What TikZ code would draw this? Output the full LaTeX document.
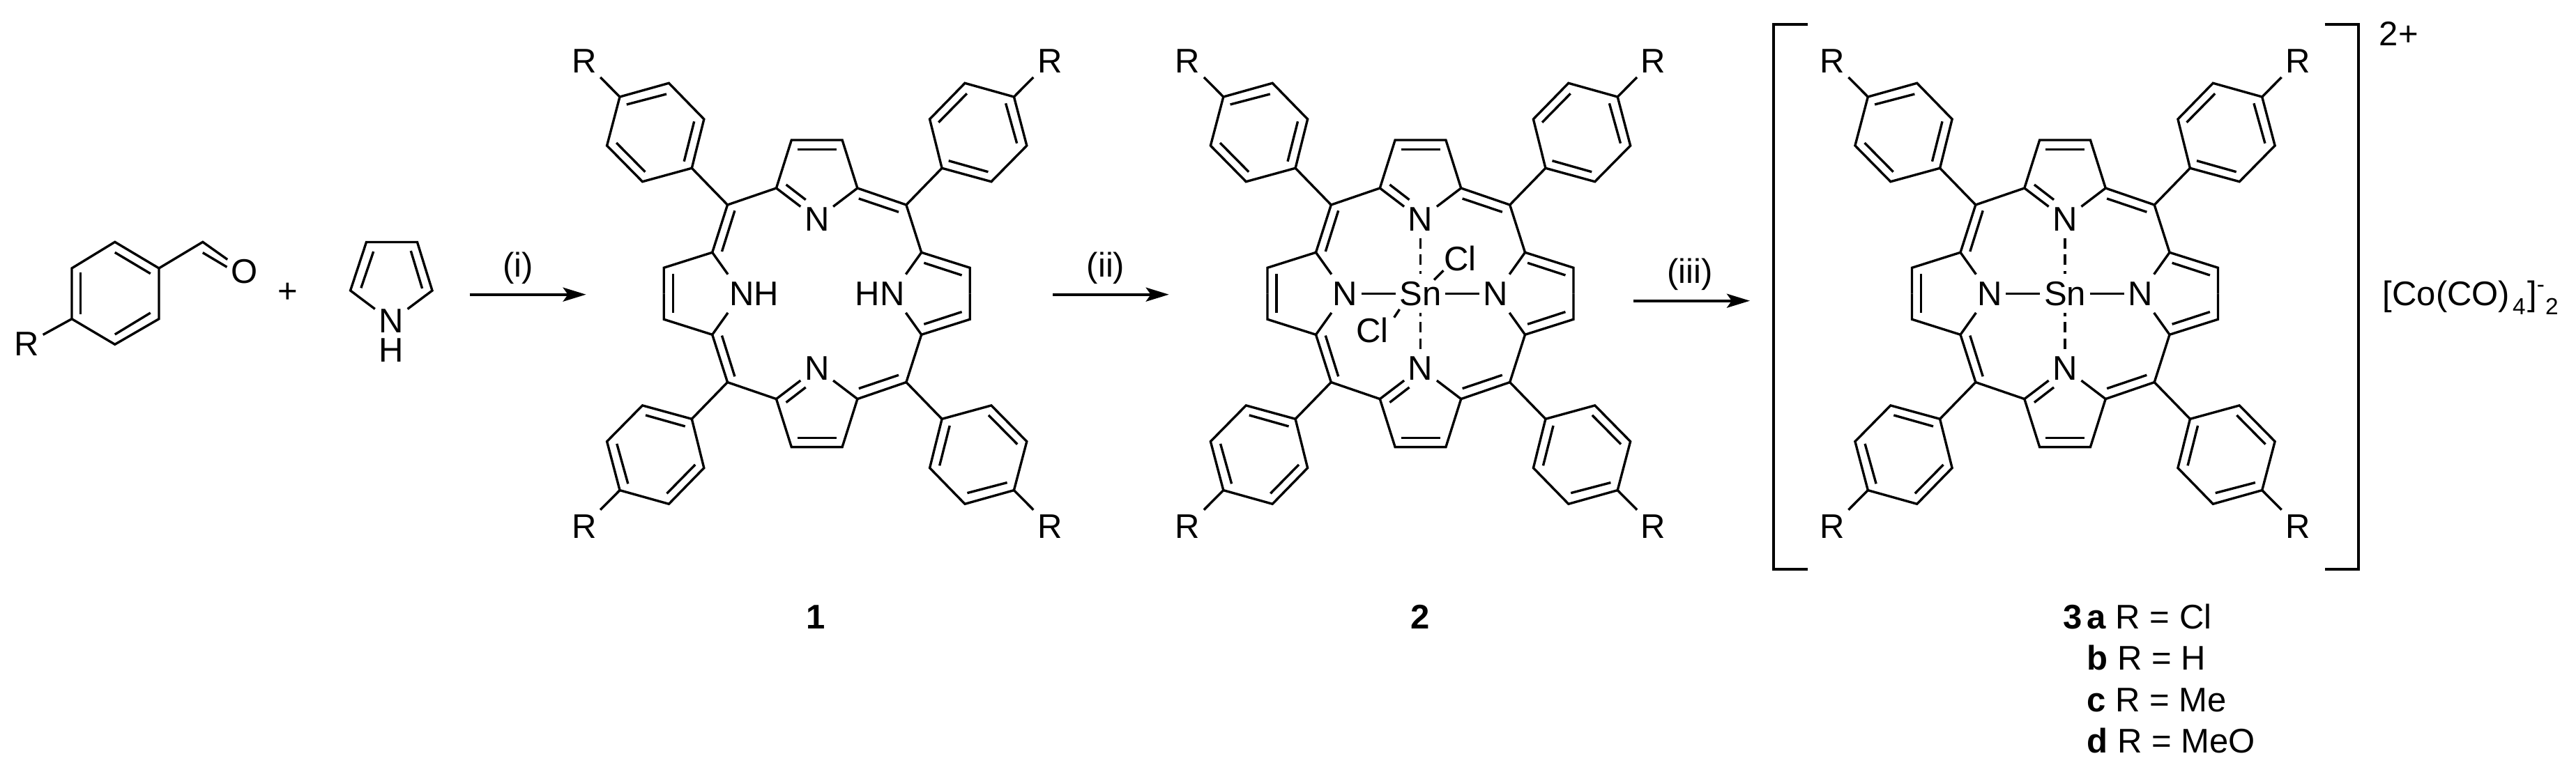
\documentclass[tikz,border=0pt]{standalone}
\usepackage{fontspec}
\setmainfont{Liberation Sans}
\usetikzlibrary{arrows.meta}
\newcommand{\subfnt}{\fontsize{9.5pt}{10pt}\selectfont}
\tikzset{
every node/.style={font=\fontsize{13.95pt}{16pt}\selectfont},
bond/.style={line width=0.034cm},
rxn/.style={line width=0.04cm,-{Stealth[length=0.33cm,width=0.2cm,inset=0.07cm]}},
brk/.style={line width=0.04cm},
atom/.style={inner xsep=0.05cm,inner ysep=0.1cm},
lbl/.style={inner sep=0pt,anchor=base west}
}
\begin{document}
\begin{tikzpicture}
\useasboundingbox (0,0) rectangle (36.95,11.07);

\coordinate (ca) at (1.648,7.597);
\coordinate (cb) at (2.28,7.22);
\coordinate (cc) at (2.28,6.493);
\coordinate (cd) at (1.648,6.127);
\coordinate (ce) at (1.03,6.493);
\coordinate (cf) at (1.03,7.22);
\coordinate (cho) at (2.908,7.597);
\node[atom] (oxy) at (3.51,7.17) {O};
\node[atom] (rsub) at (0.383,6.137) {R};
\draw[bond] (ca) -- (cb) -- (cc) -- (cd) -- (ce) -- (cf) -- cycle;
\draw[bond] (1.648,7.447) -- (2.158,7.143);
\draw[bond] (1.153,7.163) -- (1.153,6.563);
\draw[bond] (1.648,6.27) -- (2.158,6.58);
\draw[bond] (cb) -- (cho) -- (oxy);
\draw[bond] (2.908,7.444) -- (3.255,7.237);
\draw[bond] (ce) -- (rsub);
\node (plus) at (4.133,6.87) {+};

\coordinate (pya) at (5.255,7.595);
\coordinate (pyb) at (5.985,7.595);
\coordinate (pyc) at (6.2,6.9);
\coordinate (pyd) at (5.026,6.9);
\node[atom,inner ysep=0.04cm] (pyn) at (5.612,6.46) {N};
\node[inner sep=0pt] (pyh) at (5.61,6.043) {H};
\draw[bond] (pyn) -- (pyd) -- (pya) -- (pyb) -- (pyc) -- (pyn);
\draw[bond] (5.357,7.46) -- (5.179,6.937);
\draw[bond] (5.893,7.47) -- (6.056,6.93);

\coordinate (ar1s) at (6.735,6.843);
\coordinate (ar1e) at (8.406,6.843);
\coordinate (ar2s) at (15.1,6.843);
\coordinate (ar2e) at (16.767,6.843);
\coordinate (ar3s) at (23.427,6.753);
\coordinate (ar3e) at (25.1,6.753);
\draw[rxn] (ar1s) -- (ar1e);
\draw[rxn] (ar2s) -- (ar2e);
\draw[rxn] (ar3s) -- (ar3e);
\node (st1) at (7.43,7.22) {(i)};
\node (st2) at (15.86,7.22) {(ii)};
\node (st3) at (24.24,7.13) {(iii)};

\foreach \mol/\cx/\lN/\rN in {a/11.717/N\rlap{H}/\llap{H}N,b/20.375/N/N,c/29.62/N/N}{
\begin{scope}[shift={(\cx,6.857)}]
\node[atom] (\mol Nl) at (-1.08,0) {\lN};
\node[atom] (\mol Nr) at (1.08,0) {\rN};
\foreach \s in {1,-1}{
\begin{scope}[yscale=\s]
\node[atom] (\mol N\s) at (0,1.07) {N};
\coordinate (mesL) at (-1.282,1.273);
\coordinate (mesR) at (1.282,1.273);
\coordinate (alfL) at (-0.582,1.513);
\coordinate (alfR) at (0.582,1.513);
\coordinate (betL) at (-0.364,2.203);
\coordinate (betR) at (0.364,2.203);
\coordinate (sidL) at (-1.5,0.59);
\coordinate (sidR) at (1.5,0.59);
\coordinate (sbeL) at (-2.195,0.37);
\coordinate (sbeR) at (2.195,0.37);
\draw[bond] (mesL) -- (alfL) -- (betL) -- (betR) -- (alfR) -- (mesR);
\draw[bond] (alfL) -- (\mol N\s);
\draw[bond] (alfR) -- (\mol N\s);
\draw[bond] (mesL) -- (sidL) -- (sbeL) -- (-2.195,0);
\draw[bond] (mesR) -- (sidR) -- (sbeR) -- (2.195,0);
\draw[bond] (sidL) -- (\mol Nl);
\draw[bond] (sidR) -- (\mol Nr);
\draw[bond] (-0.28,2.07) -- (0.28,2.07);
\draw[bond] (-0.441,1.563) -- (-0.16,1.346);
\draw[bond] (0.601,1.363) -- (1.173,1.17);
\draw[bond] (-1.178,1.19) -- (-1.362,0.603);
\draw[bond] (-2.065,0.28) -- (-2.065,0);
\draw[bond] (1.536,0.44) -- (2.079,0.263);
\end{scope}
}
\foreach \ang in {0,180}{
\begin{scope}[rotate=\ang]
\coordinate (mesL) at (-1.282,1.273);
\coordinate (mesR) at (1.282,1.273);
\coordinate (lpa) at (-1.794,1.8);
\coordinate (lpb) at (-2.502,1.606);
\coordinate (lpc) at (-3.011,2.123);
\coordinate (lpd) at (-2.827,2.823);
\coordinate (lpe) at (-2.123,3.02);
\coordinate (lpf) at (-1.619,2.503);
\coordinate (rpa) at (1.794,1.8);
\coordinate (rpb) at (2.502,1.606);
\coordinate (rpc) at (3.011,2.123);
\coordinate (rpd) at (2.827,2.823);
\coordinate (rpe) at (2.123,3.02);
\coordinate (rpf) at (1.619,2.503);
\node[atom] (\mol RL\ang) at (-3.34,3.34) {R};
\node[atom] (\mol RR\ang) at (3.34,3.34) {R};
\draw[bond] (lpa) -- (lpb) -- (lpc) -- (lpd) -- (lpe) -- (lpf) -- cycle;
\draw[bond] (rpa) -- (rpb) -- (rpc) -- (rpd) -- (rpe) -- (rpf) -- cycle;
\draw[bond] (mesL) -- (lpa);
\draw[bond] (mesR) -- (rpa);
\draw[bond] (lpd) -- (\mol RL\ang);
\draw[bond] (rpd) -- (\mol RR\ang);
\draw[bond] (-2.729,2.713) -- (-2.157,2.863);
\draw[bond] (-1.76,2.47) -- (-1.905,1.896);
\draw[bond] (-2.875,2.163) -- (-2.463,1.746);
\draw[bond] (1.89,1.906) -- (2.457,1.746);
\draw[bond] (2.709,2.73) -- (2.869,2.156);
\draw[bond] (2.152,2.87) -- (1.745,2.456);
\end{scope}
}
\end{scope}
}

\foreach \mol/\cx in {b/20.375,c/29.62}{
\node[atom] (\mol Sn) at (\cx,6.857) {Sn};
\draw[bond] (\mol Nl) -- (\mol Sn);
\draw[bond] (\mol Sn) -- (\mol Nr);
\draw[bond,dash pattern=on 0.15cm off 0.085cm] (\mol N1) -- (\mol Sn);
\draw[bond,dash pattern=on 0.15cm off 0.085cm] (\mol N-1) -- (\mol Sn);
}

\node[atom] (clup) at (20.945,7.357) {Cl};
\node[atom] (cllo) at (19.685,6.33) {Cl};
\coordinate (clupa) at (20.57,7.053);
\coordinate (clupb) at (20.705,7.187);
\coordinate (clloa) at (20.075,6.63);
\coordinate (cllob) at (19.997,6.513);
\draw[bond] (clupa) -- (clupb);
\draw[bond] (clloa) -- (cllob);

\draw[brk] (25.93,10.724) -- (25.44,10.724) -- (25.44,2.903) -- (25.93,2.903);
\draw[brk] (33.346,10.724) -- (33.826,10.724) -- (33.826,2.903) -- (33.346,2.903);
\node[lbl] (chg) at (34.12,10.42) {2+};
\node[lbl] (cobalt) at (34.17,6.69) {[Co(CO)\hspace{0.04cm}\raisebox{-0.13cm}{\subfnt 4}\hspace{0.025cm}]\raisebox{0.19cm}{\subfnt -}\hspace{0.01cm}\raisebox{-0.13cm}{\subfnt 2}};

\node[inner sep=0pt,anchor=base] (cmpa) at (11.7,2.043) {\textbf{1}};
\node[inner sep=0pt,anchor=base] (cmpb) at (20.375,2.043) {\textbf{2}};
\node[lbl] (cmpc) at (29.93,2.043) {\llap{\textbf{3}\hspace{0.14em}}\textbf{a} R = Cl};
\node[lbl] (cmpd) at (29.93,1.46) {\textbf{b} R = H};
\node[lbl] (cmpe) at (29.93,0.86) {\textbf{c} R = Me};
\node[lbl] (cmpf) at (29.93,0.263) {\textbf{d} R = MeO};
\end{tikzpicture}
\end{document}
